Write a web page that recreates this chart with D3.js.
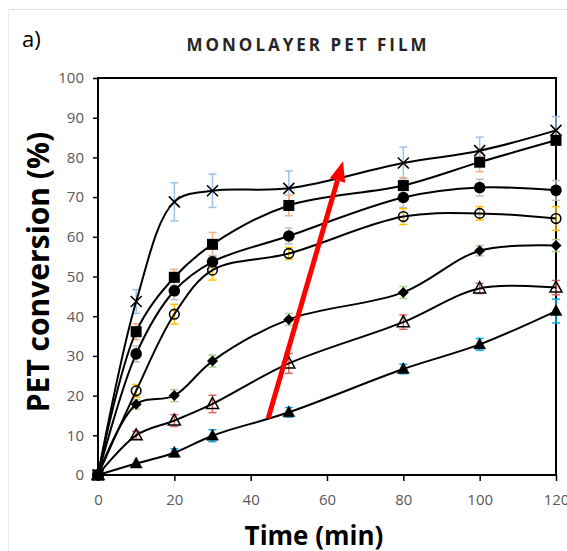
<!DOCTYPE html>
<html>
<head>
<meta charset="utf-8">
<script src="https://cdn.jsdelivr.net/npm/d3@7"></script>
<style>
    body { margin: 0; background: #fff; }
</style>
</head>
<body>
<div id="chart"></div>
<script>
    const times = [0, 10, 20, 30, 50, 80, 100, 120];
    const xTicks = [0, 20, 40, 60, 80, 100, 120];
    const yTicks = [0, 10, 20, 30, 40, 50, 60, 70, 80, 90, 100];

    // valores de cada série (de cima para baixo)
    const crossValues = [0, 43.7, 68.8, 71.6, 72.2, 78.6, 81.7, 86.8];
    const crossErrors = [0, 3, 4.8, 4.2, 4.4, 4, 3.4, 3.5];
    const squareValues = [0, 36.1, 49.8, 58.1, 67.9, 72.9, 78.8, 84.3];
    const squareErrors = [0, 2, 2, 3, 2.6, 2, 2.4, 1.2];
    const circleValues = [0, 30.5, 46.4, 53.7, 60.2, 69.9, 72.4, 71.7];
    const circleErrors = [0, 2, 2.2, 1.6, 2, 2.5, 2.1, 2.5];
    const openCircleValues = [0, 21.2, 40.5, 51.6, 55.8, 65.1, 65.9, 64.6];
    const openCircleErrors = [0, 1.6, 2.5, 2.5, 1.5, 2, 1.7, 3];
    const diamondValues = [0, 17.8, 20.0, 28.7, 39.2, 46.0, 56.5, 57.8];
    const diamondErrors = [0, 1.2, 1.5, 1.5, 1.5, 1.5, 1.3, 1.5];
    const openTriangleValues = [0, 10.0, 13.7, 17.9, 28.1, 38.5, 47.0, 47.2];
    const openTriangleErrors = [0, 1, 1.5, 2.2, 2.5, 1.8, 1.3, 1.8];
    const triangleValues = [0, 2.9, 5.6, 9.9, 15.8, 26.7, 32.9, 41.3];
    const triangleErrors = [0, 0, 1, 1.5, 1.2, 1.2, 1.5, 3];

    const arrowStart = { t: 44.6, v: 14.3 };
    const arrowEnd = { t: 64.2, v: 79 };

    const series = [
        { name: "cross", values: crossValues, errors: crossErrors, shape: "x", errColor: "#9dc3e6" },
        { name: "square", values: squareValues, errors: squareErrors, shape: "square", errColor: "#f4b183" },
        { name: "circle", values: circleValues, errors: circleErrors, shape: "circle", errColor: "#bfbfbf" },
        { name: "openCircle", values: openCircleValues, errors: openCircleErrors, shape: "openCircle", errColor: "#ffc000" },
        { name: "diamond", values: diamondValues, errors: diamondErrors, shape: "diamond", errColor: "#a9d18e" },
        { name: "openTriangle", values: openTriangleValues, errors: openTriangleErrors, shape: "openTriangle", errColor: "#e06666" },
        { name: "triangle", values: triangleValues, errors: triangleErrors, shape: "triangle", errColor: "#00b0f0" }
    ];

    const W = 567, H = 551;
    const margin = { top: 78, right: 11, bottom: 76, left: 98 };
    const width = W - margin.left - margin.right;
    const height = H - margin.top - margin.bottom;

    const svg = d3.select("#chart")
        .append("svg")
        .attr("width", W)
        .attr("height", H)
        .style("font-family", "'Open Sans', sans-serif");

    // bordas claras da captura
    svg.append("line")
        .attr("x1", 8).attr("x2", W).attr("y1", 9.5).attr("y2", 9.5)
        .attr("stroke", "#e3e3e3");
    svg.append("line")
        .attr("x1", 8.5).attr("x2", 8.5).attr("y1", 9).attr("y2", H)
        .attr("stroke", "#ececec");

    const g = svg.append("g")
        .attr("transform", `translate(${margin.left},${margin.top})`);

    const x = d3.scaleLinear().domain([0, 120]).range([0, width]);
    const y = d3.scaleLinear().domain([0, 100]).range([height, 0]);

    // Eixo X
    const xAxis = g.append("g")
        .attr("transform", `translate(0,${height})`)
        .call(d3.axisBottom(x).tickValues(xTicks).tickSize(6).tickPadding(13));
    // Eixo Y
    const yAxis = g.append("g")
        .call(d3.axisLeft(y).tickValues(yTicks).tickSize(5).tickPadding(9));

    [xAxis, yAxis].forEach(a => {
        a.select(".domain").remove();
        a.selectAll("line").attr("stroke", "#000").attr("stroke-width", 1.5);
        a.selectAll("text")
            .attr("fill", "#595959")
            .style("font-size", "15px")
            .style("font-family", "'Open Sans', sans-serif");
    });

    // caixa do gráfico
    g.append("rect")
        .attr("width", width)
        .attr("height", height)
        .attr("fill", "none")
        .attr("stroke", "#000")
        .attr("stroke-width", 2);

    // barras de erro
    series.forEach(s => {
        const eg = g.append("g").attr("stroke", s.errColor).attr("stroke-width", 1.5);
        times.forEach((t, i) => {
            const e = s.errors[i];
            if (!e) return;
            const cx = x(t);
            const y1 = y(s.values[i] + e), y2 = y(s.values[i] - e);
            eg.append("line").attr("x1", cx).attr("x2", cx).attr("y1", y1).attr("y2", y2);
            eg.append("line").attr("x1", cx - 4).attr("x2", cx + 4).attr("y1", y1).attr("y2", y1);
            eg.append("line").attr("x1", cx - 4).attr("x2", cx + 4).attr("y1", y2).attr("y2", y2);
        });
    });

    // linhas suavizadas
    const line = d3.line()
        .x(d => x(d[0]))
        .y(d => y(d[1]))
        .curve(d3.curveCatmullRom.alpha(0.5));

    series.forEach(s => {
        g.append("path")
            .datum(times.map((t, i) => [t, s.values[i]]))
            .attr("d", line)
            .attr("fill", "none")
            .attr("stroke", "#000")
            .attr("stroke-width", 2);
    });

    // marcadores
    function drawMarker(sel, shape, cx, cy) {
        const r = 5.5;
        if (shape === "x") {
            sel.append("path")
                .attr("d", `M${cx - r},${cy - r}L${cx + r},${cy + r}M${cx - r},${cy + r}L${cx + r},${cy - r}`)
                .attr("stroke", "#000").attr("stroke-width", 1.6).attr("fill", "none");
        } else if (shape === "square") {
            sel.append("rect")
                .attr("x", cx - r).attr("y", cy - r).attr("width", 2 * r).attr("height", 2 * r)
                .attr("fill", "#000");
        } else if (shape === "circle") {
            sel.append("circle").attr("cx", cx).attr("cy", cy).attr("r", r + 0.3).attr("fill", "#000");
        } else if (shape === "openCircle") {
            sel.append("circle").attr("cx", cx).attr("cy", cy).attr("r", r - 0.7)
                .attr("fill", "none").attr("stroke", "#000").attr("stroke-width", 1.6);
        } else if (shape === "diamond") {
            sel.append("path")
                .attr("d", `M${cx},${cy - r}L${cx + r},${cy}L${cx},${cy + r}L${cx - r},${cy}Z`)
                .attr("fill", "#000");
        } else if (shape === "openTriangle" || shape === "triangle") {
            sel.append("path")
                .attr("d", `M${cx},${cy - r - 1}L${cx + r + 0.5},${cy + r - 1}L${cx - r - 0.5},${cy + r - 1}Z`)
                .attr("fill", shape === "triangle" ? "#000" : "none")
                .attr("stroke", "#000")
                .attr("stroke-width", shape === "triangle" ? 0.5 : 1.5);
        }
    }

    series.forEach(s => {
        const mg = g.append("g");
        times.forEach((t, i) => drawMarker(mg, s.shape, x(t), y(s.values[i])));
    });

    // seta vermelha
    const ax1 = x(arrowStart.t), ay1 = y(arrowStart.v);
    const ax2 = x(arrowEnd.t), ay2 = y(arrowEnd.v);
    const ang = Math.atan2(ay2 - ay1, ax2 - ax1);
    const headLen = 20, headW = 8;
    const bx = ax2 - headLen * Math.cos(ang), by = ay2 - headLen * Math.sin(ang);
    g.append("line")
        .attr("x1", ax1).attr("y1", ay1).attr("x2", bx).attr("y2", by)
        .attr("stroke", "#ff0000").attr("stroke-width", 5);
    g.append("path")
        .attr("d", `M${ax2},${ay2}` +
            `L${bx + headW * Math.sin(ang)},${by - headW * Math.cos(ang)}` +
            `L${bx - headW * Math.sin(ang)},${by + headW * Math.cos(ang)}Z`)
        .attr("fill", "#ff0000");

    // Título
    svg.append("text")
        .attr("x", 308)
        .attr("y", 51)
        .attr("text-anchor", "middle")
        .style("font-size", "17px")
        .style("font-weight", "bold")
        .style("letter-spacing", "3px")
        .attr("fill", "#262626")
        .text("MONOLAYER PET FILM");

    svg.append("text")
        .attr("x", 22)
        .attr("y", 47)
        .style("font-size", "22px")
        .attr("fill", "#000")
        .text("a)");

    // Rótulo do Eixo Y
    svg.append("text")
        .attr("transform", `translate(49,272) rotate(-90)`)
        .attr("text-anchor", "middle")
        .style("font-size", "30px")
        .style("font-weight", "bold")
        .attr("fill", "#000")
        .text("PET conversion (%)");

    // Rótulo do Eixo X
    svg.append("text")
        .attr("x", 314)
        .attr("y", 545)
        .attr("text-anchor", "middle")
        .style("font-size", "26px")
        .style("font-weight", "bold")
        .attr("fill", "#000")
        .text("Time (min)");
</script>
</body>
</html>
